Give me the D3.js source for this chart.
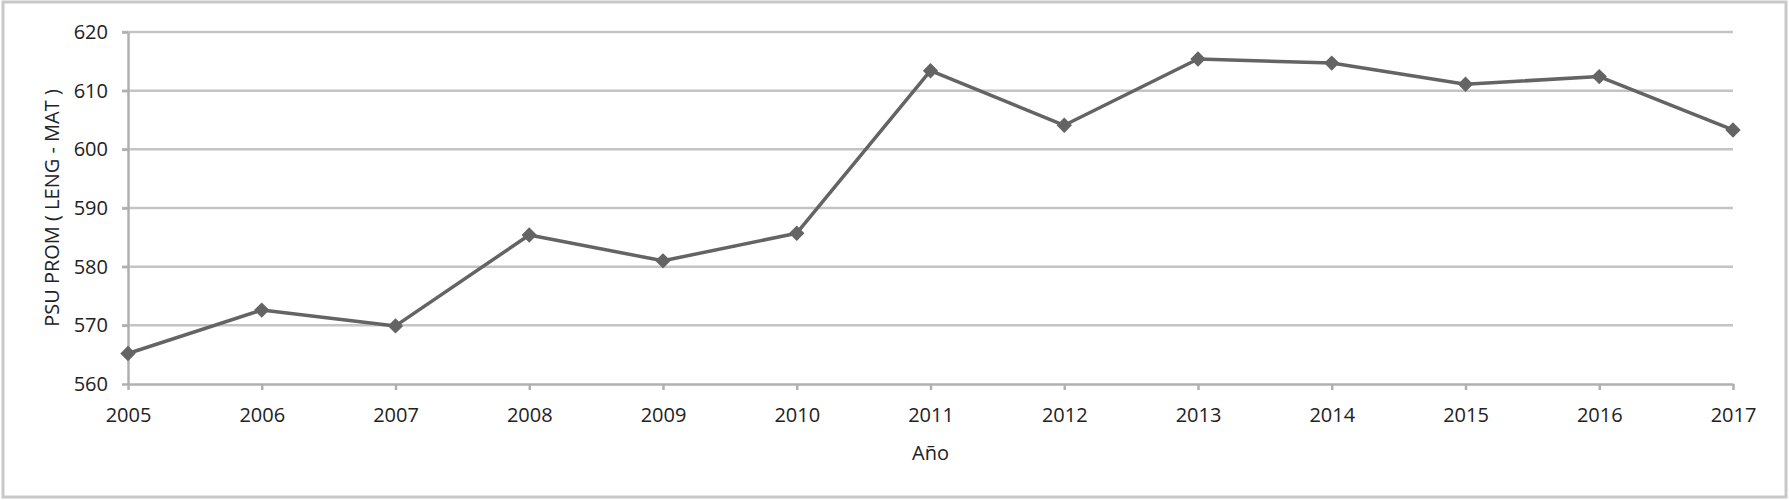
<!DOCTYPE html>
<style>
  body { margin: 0; background: #fff; }
  text { font-family: "Open Sans", sans-serif; fill: #222; }
</style>
<svg width="1789" height="500"></svg>
<script src="https://d3js.org/d3.v7.min.js"></script>
<script>
  var years = [2005, 2006, 2007, 2008, 2009, 2010, 2011, 2012, 2013, 2014, 2015, 2016, 2017];
  var psu = [565.2, 572.6, 569.9, 585.4, 581.0, 585.7, 613.4, 604.1, 615.4, 614.7, 611.1, 612.4, 603.3];
  var yTicks = [560, 570, 580, 590, 600, 610, 620];

  var svg = d3.select("svg");
  var plotLeft = 128, plotRight = 1733, plotTop = 32, plotBottom = 384;

  var x = d3.scaleLinear().domain([2005, 2017]).range([plotLeft, plotRight]);
  var y = d3.scaleLinear().domain([560, 620]).range([plotBottom, plotTop]);

  // outer frame
  svg.append("rect")
      .attr("x", 3).attr("y", 2)
      .attr("width", 1783).attr("height", 495)
      .attr("fill", "none").attr("stroke", "#c8c8c8").attr("stroke-width", 3);

  // gridlines
  svg.append("g").selectAll("line")
    .data(yTicks.slice(1))
    .enter().append("line")
      .attr("x1", plotLeft - 6).attr("x2", plotRight)
      .attr("y1", function(d) { return y(d); })
      .attr("y2", function(d) { return y(d); })
      .attr("stroke", "#c4c4c4").attr("stroke-width", 2.5);

  // y axis
  var ya = svg.append("g")
      .attr("transform", "translate(" + plotLeft + ",0)")
      .call(d3.axisLeft(y).tickValues(yTicks).tickSize(6).tickPadding(14).tickSizeOuter(0));
  ya.select(".domain").attr("stroke", "#b0b0b0").attr("stroke-width", 2.5);
  ya.selectAll(".tick line").attr("stroke", "#b0b0b0").attr("stroke-width", 2.5);
  ya.selectAll("text").attr("font-size", 20).attr("font-family", "Open Sans").attr("fill", "#222");

  // x axis
  var xa = svg.append("g")
      .attr("transform", "translate(0," + plotBottom + ")")
      .call(d3.axisBottom(x).tickValues(years).tickFormat(d3.format("d")).tickSize(6).tickSizeOuter(0));
  xa.select(".domain").attr("stroke", "#b0b0b0").attr("stroke-width", 2.5);
  xa.selectAll(".tick line").attr("stroke", "#b0b0b0").attr("stroke-width", 2.5);
  xa.selectAll("text").attr("font-size", 20).attr("font-family", "Open Sans").attr("fill", "#222")
      .attr("y", 38).attr("dy", 0);

  // axis titles
  svg.append("text")
      .attr("x", (plotLeft + plotRight) / 2).attr("y", 460)
      .attr("text-anchor", "middle").attr("font-size", 20)
      .text("Año");

  svg.append("text")
      .attr("transform", "translate(59," + (plotTop + plotBottom) / 2 + ") rotate(-90)")
      .attr("text-anchor", "middle").attr("font-size", 20)
      .text("PSU PROM ( LENG - MAT )");

  // line
  var line = d3.line()
      .x(function(d, i) { return x(years[i]); })
      .y(function(d) { return y(d); });

  svg.append("path")
      .datum(psu)
      .attr("d", line)
      .attr("fill", "none")
      .attr("stroke", "#646464")
      .attr("stroke-width", 3.5)
      .attr("stroke-linejoin", "round");

  svg.append("g").selectAll("path")
    .data(psu)
    .enter().append("path")
      .attr("d", d3.symbol().type(d3.symbolDiamond2).size(150))
      .attr("transform", function(d, i) { return "translate(" + x(years[i]) + "," + y(d) + ")"; })
      .attr("fill", "#646464");
</script>
